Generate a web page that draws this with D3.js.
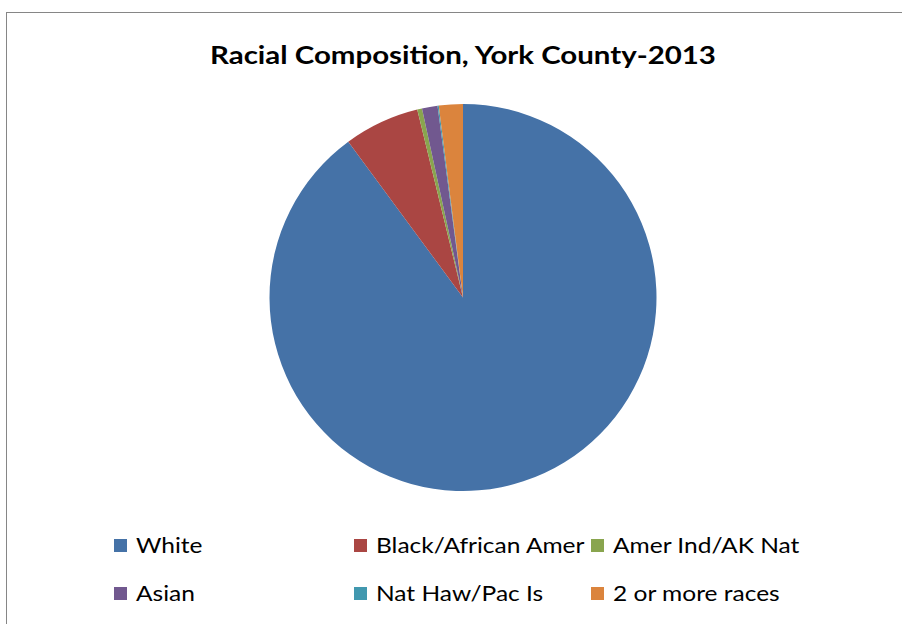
<!DOCTYPE html>
<html>
<head>
<meta charset="utf-8">
<script src="https://cdn.jsdelivr.net/npm/d3@7"></script>
<style>
  html, body { margin: 0; padding: 0; background: #fff; }
  svg { display: block; }
  text { font-family: Lato, "Open Sans", sans-serif; fill: #000; }
</style>
</head>
<body>
<div id="chart"></div>
<script>
const title = "Racial Composition, York County-2013";
const races = ["White", "Black/African Amer", "Amer Ind/AK Nat", "Asian", "Nat Haw/Pac Is", "2 or more races"];
const shares = [89.9, 6.3, 0.4, 1.3, 0.1, 2.0];
const colors = ["#4572A7", "#AA4643", "#89A54E", "#71588F", "#4198AF", "#DB843D"];

const W = 902, H = 624;
const cx = 463, cy = 297.5, R = 193.5;

const svg = d3.select("#chart").append("svg").attr("width", W).attr("height", H);

// chart area border (runs off the right and bottom of the picture)
svg.append("rect")
   .attr("x", 6.5).attr("y", 12.5).attr("width", W + 20).attr("height", H + 20)
   .attr("fill", "#fff").attr("stroke", "#868686").attr("stroke-width", 1);

// source font is wider than Lato, so stretch text sideways a bit
svg.append("text")
   .attr("transform", `translate(${cx},64) scale(1.177,1)`)
   .attr("text-anchor", "middle")
   .attr("font-size", "25px").attr("font-weight", "bold")
   .text(title);

const data = races.map((r, i) => ({ name: r, v: shares[i], c: colors[i] }));
const pie = d3.pie().sort(null).value(d => d.v).startAngle(0).endAngle(2 * Math.PI);
const arc = d3.arc().innerRadius(0).outerRadius(R);

svg.append("g").attr("transform", `translate(${cx},${cy})`)
   .selectAll("path").data(pie(data)).join("path")
   .attr("d", arc).attr("fill", d => d.data.c);

// legend: 3 columns, 2 rows
const colX = d3.scaleOrdinal().domain([0, 1, 2]).range([114, 354, 591]);
const rowY = d3.scaleOrdinal().domain([0, 1]).range([545.5, 593.5]);

const items = svg.append("g").selectAll("g").data(data).join("g")
   .attr("transform", (d, i) => `translate(${colX(i % 3)},${rowY(Math.floor(i / 3))})`);
items.append("rect").attr("x", 0).attr("y", -6.5).attr("width", 13).attr("height", 13)
   .attr("fill", d => d.c);
items.append("text")
   .attr("transform", "translate(22,7.5) scale(1.115,1)")
   .attr("font-size", "22px")
   .text(d => d.name);
</script>
</body>
</html>
